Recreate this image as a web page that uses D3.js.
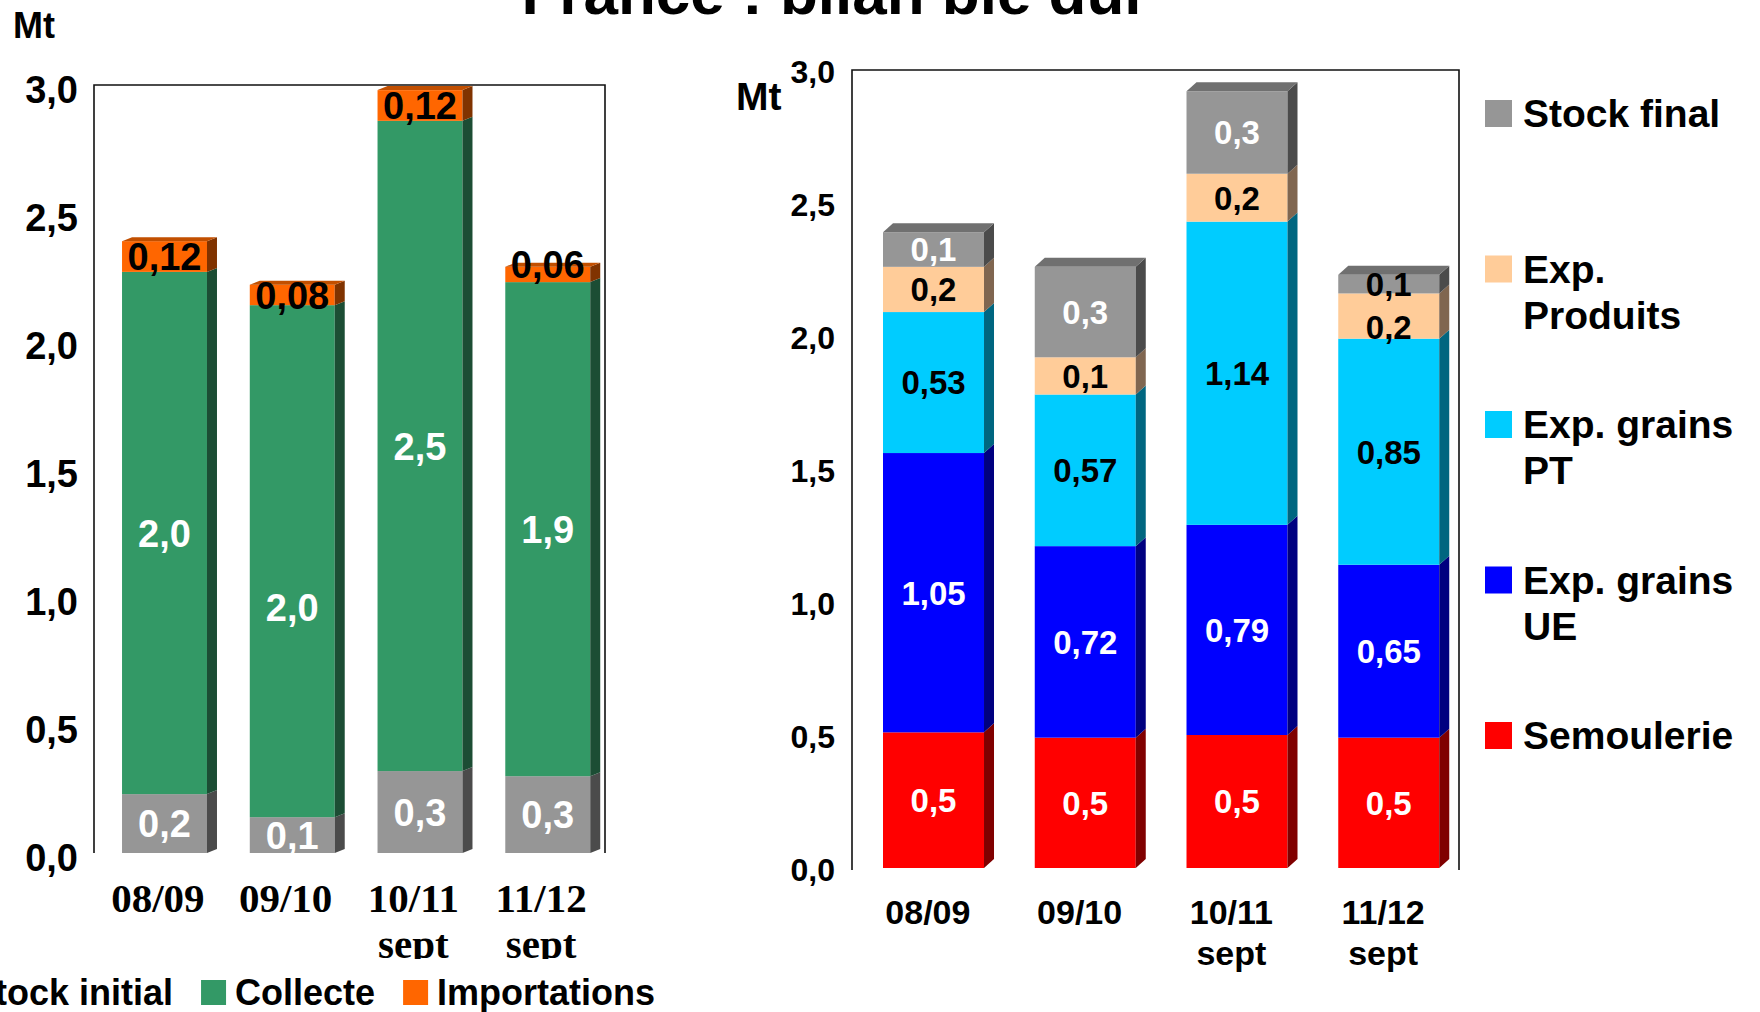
<!DOCTYPE html>
<html>
<head>
<meta charset="utf-8">
<script src="https://cdn.jsdelivr.net/npm/d3@7"></script>
<style>
  html, body { margin: 0; padding: 0; background: #fff; overflow: hidden; }
  svg { display: block; }
  text { font-family: "Liberation Sans", Arial, sans-serif; font-weight: bold; }
</style>
</head>
<body>
<svg id="page" width="1760" height="1012"></svg>
<script>
// Campagnes (les deux dernières : situation à septembre)
const campaigns = ["08/09", "09/10", "10/11\nsept", "11/12\nsept"];
const yTicks = [0, 0.5, 1, 1.5, 2, 2.5, 3];

// Ressources, en Mt
const stockInitial = [0.23, 0.14, 0.32, 0.30];
const collecte     = [2.04, 2.00, 2.54, 1.93];
const importations = [0.12, 0.08, 0.12, 0.06];

// Emplois, en Mt
const semoulerie  = [0.51, 0.49, 0.50, 0.49];
const expGrainsUE = [1.05, 0.72, 0.79, 0.65];
const expGrainsPT = [0.53, 0.57, 1.14, 0.85];
const expProduits = [0.17, 0.14, 0.18, 0.17];
const stockFinal  = [0.13, 0.34, 0.31, 0.07];

const comma = f => v => d3.format(f)(v).replace(".", ",");
const fmt1 = comma(".1f"), fmt2 = comma(".2f");

const svg = d3.select("#page");
const defs = svg.append("defs");

// Titre
svg.append("text")
  .attr("x", 835).attr("y", 14)
  .attr("text-anchor", "middle")
  .attr("font-size", 62)
  .text("France : bilan blé dur");

function stackedChart(cfg) {
  const g = svg.append("g");
  const x = d3.scaleBand().domain(campaigns)
    .range([cfg.left, cfg.right])
    .paddingInner(cfg.padInner).paddingOuter(cfg.padInner / 2)
    .align(cfg.align);
  const y = d3.scaleLinear().domain([0, 3]).range([cfg.bottom, cfg.top]);
  const bw = x.bandwidth();
  const slotCenter = c => cfg.left + x.step() * (campaigns.indexOf(c) + 0.5);

  const keys = cfg.series.map(s => s.name);
  const byName = new Map(cfg.series.map(s => [s.name, s]));
  const layers = d3.stack().keys(keys)
    .value((i, k) => byName.get(k).values[i])(d3.range(campaigns.length));

  // Cadre de la zone de tracé (sans bord inférieur)
  g.append("path")
    .attr("d", `M${cfg.left},${cfg.axisBottom}V${cfg.top}H${cfg.right}V${cfg.axisBottom}`)
    .attr("fill", "none").attr("stroke", "#111").attr("stroke-width", 1.6);

  // Colonnes empilées en relief
  const dx = cfg.depthX, dy = cfg.depthY;
  layers.forEach((layer, li) => {
    const s = byName.get(layer.key);
    const lg = g.append("g");
    layer.forEach(p => {
      const c = campaigns[p.data];
      const x0 = x(c), yt = y(p[1]), yb = y(p[0]);
      lg.append("rect").attr("x", x0).attr("y", yt)
        .attr("width", bw).attr("height", yb - yt).attr("fill", s.color);
      lg.append("path")
        .attr("d", `M${x0 + bw},${yt}L${x0 + bw + dx},${yt - dy}L${x0 + bw + dx},${yb - dy}L${x0 + bw},${yb}Z`)
        .attr("fill", s.side);
      if (li === layers.length - 1) {
        lg.append("path")
          .attr("d", `M${x0},${yt}L${x0 + dx},${yt - dy}L${x0 + bw + dx},${yt - dy}L${x0 + bw},${yt}Z`)
          .attr("fill", s.top);
      }
    });
  });

  // Étiquettes de valeurs (décalage vertical éventuel par étiquette)
  defs.append("clipPath").attr("id", cfg.id + "-plot")
    .append("rect").attr("x", 0).attr("y", 0)
    .attr("width", 1760).attr("height", cfg.bottom);
  const lab = g.append("g").attr("clip-path", `url(#${cfg.id}-plot)`);
  layers.forEach(layer => {
    const s = byName.get(layer.key);
    layer.forEach(p => {
      const c = campaigns[p.data];
      const col = Array.isArray(s.label) ? s.label[p.data] : s.label;
      const shift = s.shift ? s.shift[p.data] : 0;
      lab.append("text")
        .attr("x", x(c) + bw / 2)
        .attr("y", (y(p[0]) + y(p[1])) / 2 + shift)
        .attr("dy", "0.36em")
        .attr("text-anchor", "middle")
        .attr("font-size", cfg.labelSize)
        .attr("fill", col)
        .text(s.fmt(s.values[p.data]));
    });
  });

  // Axe des valeurs
  const ax = g.append("g")
    .attr("transform", `translate(${cfg.left},0)`)
    .call(d3.axisLeft(y).tickValues(yTicks).tickFormat(fmt1)
      .tickSize(0).tickPadding(cfg.tickPad));
  ax.select(".domain").remove();
  ax.selectAll("text")
    .attr("font-family", "'Liberation Sans', Arial, sans-serif")
    .attr("font-weight", "bold")
    .attr("font-size", cfg.tickSize)
    .attr("fill", "#000")
    .attr("dy", cfg.tickDy);
  ax.attr("font-family", null).attr("font-size", null);

  g.append("text")
    .attr("x", cfg.unitX).attr("y", cfg.unitY)
    .attr("font-size", cfg.unitSize)
    .text("Mt");

  // Axe des campagnes
  defs.append("clipPath").attr("id", cfg.id + "-cat")
    .append("rect").attr("x", 0).attr("y", 0)
    .attr("width", 1760).attr("height", cfg.catClip);
  const cat = g.append("g").attr("clip-path", `url(#${cfg.id}-cat)`);
  campaigns.forEach(c => {
    const t = cat.append("text")
      .attr("x", slotCenter(c)).attr("y", cfg.catY)
      .attr("text-anchor", "middle")
      .attr("font-size", cfg.catSize)
      .style("font-family", cfg.catFont);
    c.split("\n").forEach((line, k) => {
      t.append("tspan").attr("x", slotCenter(c))
        .attr("y", cfg.catY + k * cfg.catLine).text(line);
    });
  });

  return g;
}

// Ressources
const resources = [
  { name: "Stock initial", values: stockInitial, color: "#969696", side: "#4b4b4b", top: "#6e6e6e", label: "#fff", fmt: fmt1 },
  { name: "Collecte",      values: collecte,     color: "#339966", side: "#1c4d34", top: "#267350", label: "#fff", fmt: fmt1, shift: [0, 46, 0, 0] },
  { name: "Importations",  values: importations, color: "#ff6600", side: "#803300", top: "#c24f00", label: "#000", fmt: fmt2, shift: [0, 0, 0, -10] }
];

stackedChart({
  id: "res", series: resources,
  left: 94, right: 605, top: 85, bottom: 853, axisBottom: 853,
  padInner: 0.335, align: 0.655,
  depthX: 10, depthY: 4,
  labelSize: 38, tickSize: 38, tickPad: 16, tickDy: "0.45em",
  unitX: 13, unitY: 38, unitSize: 36,
  catY: 912, catLine: 46, catSize: 41, catClip: 959,
  catFont: "'Liberation Serif', 'Times New Roman', serif"
});

// Emplois
const uses = [
  { name: "Semoulerie",         values: semoulerie,  color: "#ff0000", side: "#800000", top: "#b30000", label: "#fff", fmt: fmt1 },
  { name: "Exp. grains\nUE",    values: expGrainsUE, color: "#0000ff", side: "#000080", top: "#0000b3", label: "#fff", fmt: fmt2 },
  { name: "Exp. grains\nPT",    values: expGrainsPT, color: "#00ccff", side: "#006680", top: "#008fb3", label: "#000", fmt: fmt2 },
  { name: "Exp.\nProduits",     values: expProduits, color: "#ffcc99", side: "#806650", top: "#b38f6b", label: "#000", fmt: fmt1, shift: [0, 0, 0, 11] },
  { name: "Stock final",        values: stockFinal,  color: "#969696", side: "#4b4b4b", top: "#707070", label: ["#fff", "#fff", "#fff", "#000"], fmt: fmt1 }
];

stackedChart({
  id: "use", series: uses,
  left: 852, right: 1459, top: 70, bottom: 868, axisBottom: 870,
  padInner: 0.3344, align: 0.611,
  depthX: 10, depthY: 9,
  labelSize: 33, tickSize: 32, tickPad: 17, tickDy: "0.4em",
  unitX: 736, unitY: 110, unitSize: 39,
  catY: 924, catLine: 41, catSize: 34, catClip: 1012,
  catFont: "'Liberation Sans', Arial, sans-serif"
});

// Légende des ressources (en bas, à gauche)
{
  const lg = svg.append("g");
  let cx = -63;
  resources.forEach(s => {
    lg.append("rect").attr("x", cx).attr("y", 980)
      .attr("width", 25).attr("height", 25).attr("fill", s.color);
    const t = lg.append("text").attr("x", cx + 34).attr("y", 1005)
      .attr("font-size", 36).text(s.name);
    cx += 34 + t.node().getComputedTextLength() + 28;
  });
}

// Légende des emplois (à droite, ordre inverse de l'empilement)
{
  const lg = svg.append("g");
  uses.slice().reverse().forEach((s, i) => {
    const top = 100 + i * 155.5;
    lg.append("rect").attr("x", 1485).attr("y", top)
      .attr("width", 27).attr("height", 27).attr("fill", s.color);
    const t = lg.append("text").attr("font-size", 39);
    s.name.split("\n").forEach((line, k) => {
      t.append("tspan").attr("x", 1523).attr("y", top + 27 + k * 46).text(line);
    });
  });
}
</script>
</body>
</html>
